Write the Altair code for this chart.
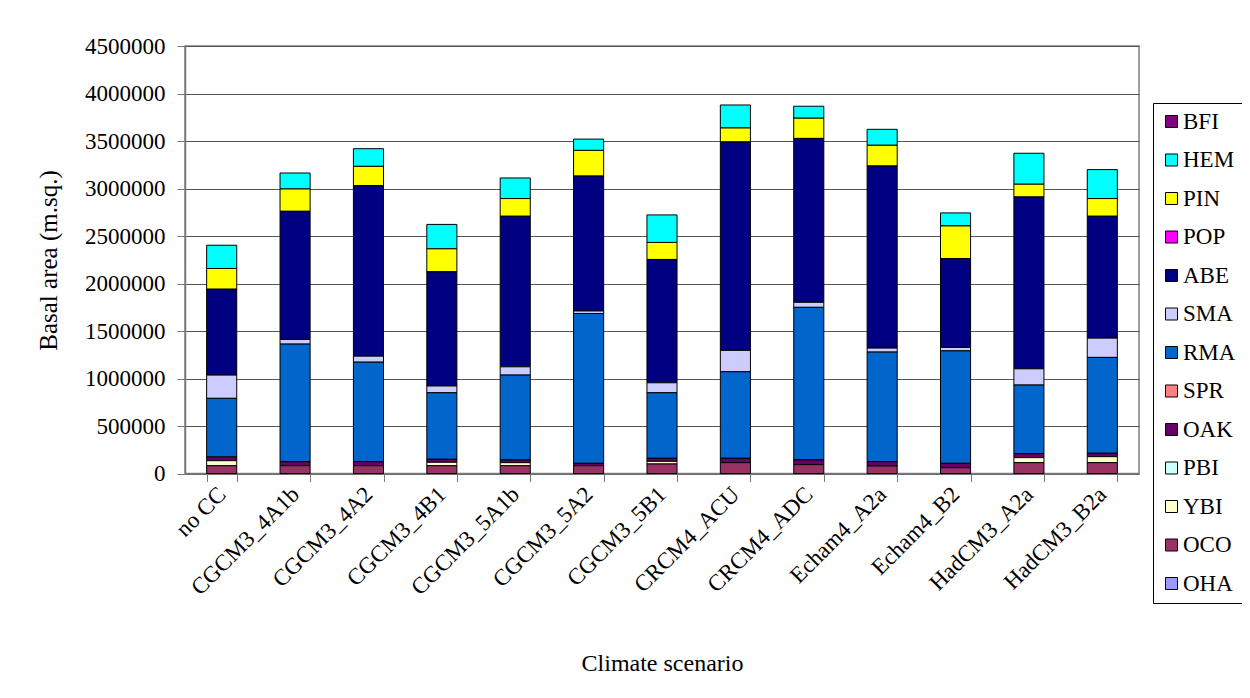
import altair as alt
import pandas as pd

scenarios = ["no CC", "CGCM3_4A1b", "CGCM3_4A2", "CGCM3_4B1", "CGCM3_5A1b", "CGCM3_5A2",
             "CGCM3_5B1", "CRCM4_ACU", "CRCM4_ADC", "Echam4_A2a", "Echam4_B2",
             "HadCM3_A2a", "HadCM3_B2a"]

# legend order (top to bottom); stacking is the reverse (OHA at the bottom)
species = ["BFI", "HEM", "PIN", "POP", "ABE", "SMA", "RMA", "SPR", "OAK", "PBI", "YBI", "OCO", "OHA"]
colors = ["#800080", "#00FFFF", "#FFFF00", "#FF00FF", "#000080", "#CCCCFF", "#0066CC",
          "#FF8080", "#660066", "#CCFFFF", "#FFFFCC", "#993366", "#9999FF"]

BFI = [0, 0, 0, 0, 0, 0, 0, 0, 0, 0, 0, 0, 0]
HEM = [245000, 168000, 186000, 257000, 217000, 119000, 290000, 242000, 126000, 168000, 137000, 326000, 305000]
PIN = [218000, 235000, 203000, 242000, 186000, 270000, 179000, 147000, 213000, 218000, 343000, 134000, 186000]
POP = [0, 0, 0, 0, 0, 0, 0, 0, 0, 0, 0, 0, 0]
ABE = [904000, 1349000, 1795000, 1202000, 1585000, 1420000, 1298000, 2194000, 1725000, 1917000, 936000, 1809000, 1283000]
SMA = [245000, 49000, 63000, 71000, 87000, 27000, 105000, 225000, 53000, 42000, 36000, 171000, 203000]
RMA = [617000, 1238000, 1048000, 700000, 894000, 1577000, 690000, 911000, 1606000, 1154000, 1184000, 722000, 1009000]
SPR = [0, 0, 0, 0, 0, 0, 0, 0, 0, 0, 0, 0, 0]
OAK = [39000, 42000, 42000, 32000, 28000, 25000, 32000, 46000, 50000, 45000, 46000, 42000, 36000]
PBI = [0, 0, 0, 0, 0, 0, 0, 0, 0, 0, 0, 0, 0]
YBI = [53000, 0, 0, 36000, 32000, 0, 28000, 0, 0, 0, 0, 53000, 63000]
OCO = [82000, 82000, 82000, 82000, 82000, 82000, 100000, 114000, 93000, 79000, 61000, 114000, 114000]
OHA = [0, 0, 0, 0, 0, 0, 0, 0, 0, 0, 0, 0, 0]

y_ticks = [0, 500000, 1000000, 1500000, 2000000, 2500000, 3000000, 3500000, 4000000, 4500000]

series = {"BFI": BFI, "HEM": HEM, "PIN": PIN, "POP": POP, "ABE": ABE, "SMA": SMA, "RMA": RMA,
          "SPR": SPR, "OAK": OAK, "PBI": PBI, "YBI": YBI, "OCO": OCO, "OHA": OHA}

rows = []
for sp_i, sp in enumerate(species):
    for sc, v in zip(scenarios, series[sp]):
        if v > 0:
            rows.append({"scenario": sc, "species": sp, "value": v,
                         "rank": len(species) - 1 - sp_i})
df = pd.DataFrame(rows)

FONT = "Liberation Serif"

chart = alt.Chart(df).mark_bar(stroke="black", strokeWidth=1).encode(
    x=alt.X("scenario:N", sort=scenarios,
            scale=alt.Scale(paddingInner=0.59, paddingOuter=0.295),
            axis=alt.Axis(title="Climate scenario", labelAngle=-45, labelAlign="right",
                          labelBaseline="middle", labelFontSize=23, labelPadding=9,
                          tickBand="extent", tickSize=8, tickColor="#777777",
                          domainColor="#777777", domainWidth=1.5,
                          titleFontSize=24, titleFontWeight="normal",
                          titleX=477, titleY=190, titleBaseline="middle", titleAlign="center")),
    y=alt.Y("value:Q", stack="zero",
            scale=alt.Scale(domain=[0, 4500000], nice=False),
            axis=alt.Axis(title="Basal area (m.sq.)", values=y_ticks, format="d",
                          labelFontSize=23, labelPadding=12, tickSize=8,
                          tickColor="#777777", domainColor="#777777", domainWidth=1.5,
                          gridColor="#555555", gridWidth=1,
                          titleFontSize=25, titleFontWeight="normal",
                          titleX=-137, titleY=214, titleAngle=-90,
                          titleBaseline="middle", titleAlign="center")),
    color=alt.Color("species:N", scale=alt.Scale(domain=species, range=colors),
                    legend=alt.Legend(title=None, orient="none", legendX=968, legendY=57,
                                      direction="vertical", symbolType="square",
                                      symbolSize=144, symbolStrokeColor="black",
                                      symbolStrokeWidth=1, labelFontSize=23,
                                      labelOffset=0, rowPadding=14.5, padding=7,
                                      strokeColor="black", fillColor="white",
                                      labelLimit=200)),
    order=alt.Order("rank:Q", sort="ascending"),
).properties(
    width=954, height=427.5,
    autosize=alt.AutoSizeParams(type="none"),
    padding={"left": 177, "top": 38, "right": 103, "bottom": 216},
).configure(font=FONT).configure_axis(
    labelFont=FONT, titleFont=FONT, labelColor="black", titleColor="black", grid=True
).configure_axisX(grid=False).configure_legend(
    labelFont=FONT, labelColor="black"
).configure_view(stroke="#808080", strokeWidth=1.5)

chart.save("out.html", embed_options={"renderer": "svg", "actions": False})
